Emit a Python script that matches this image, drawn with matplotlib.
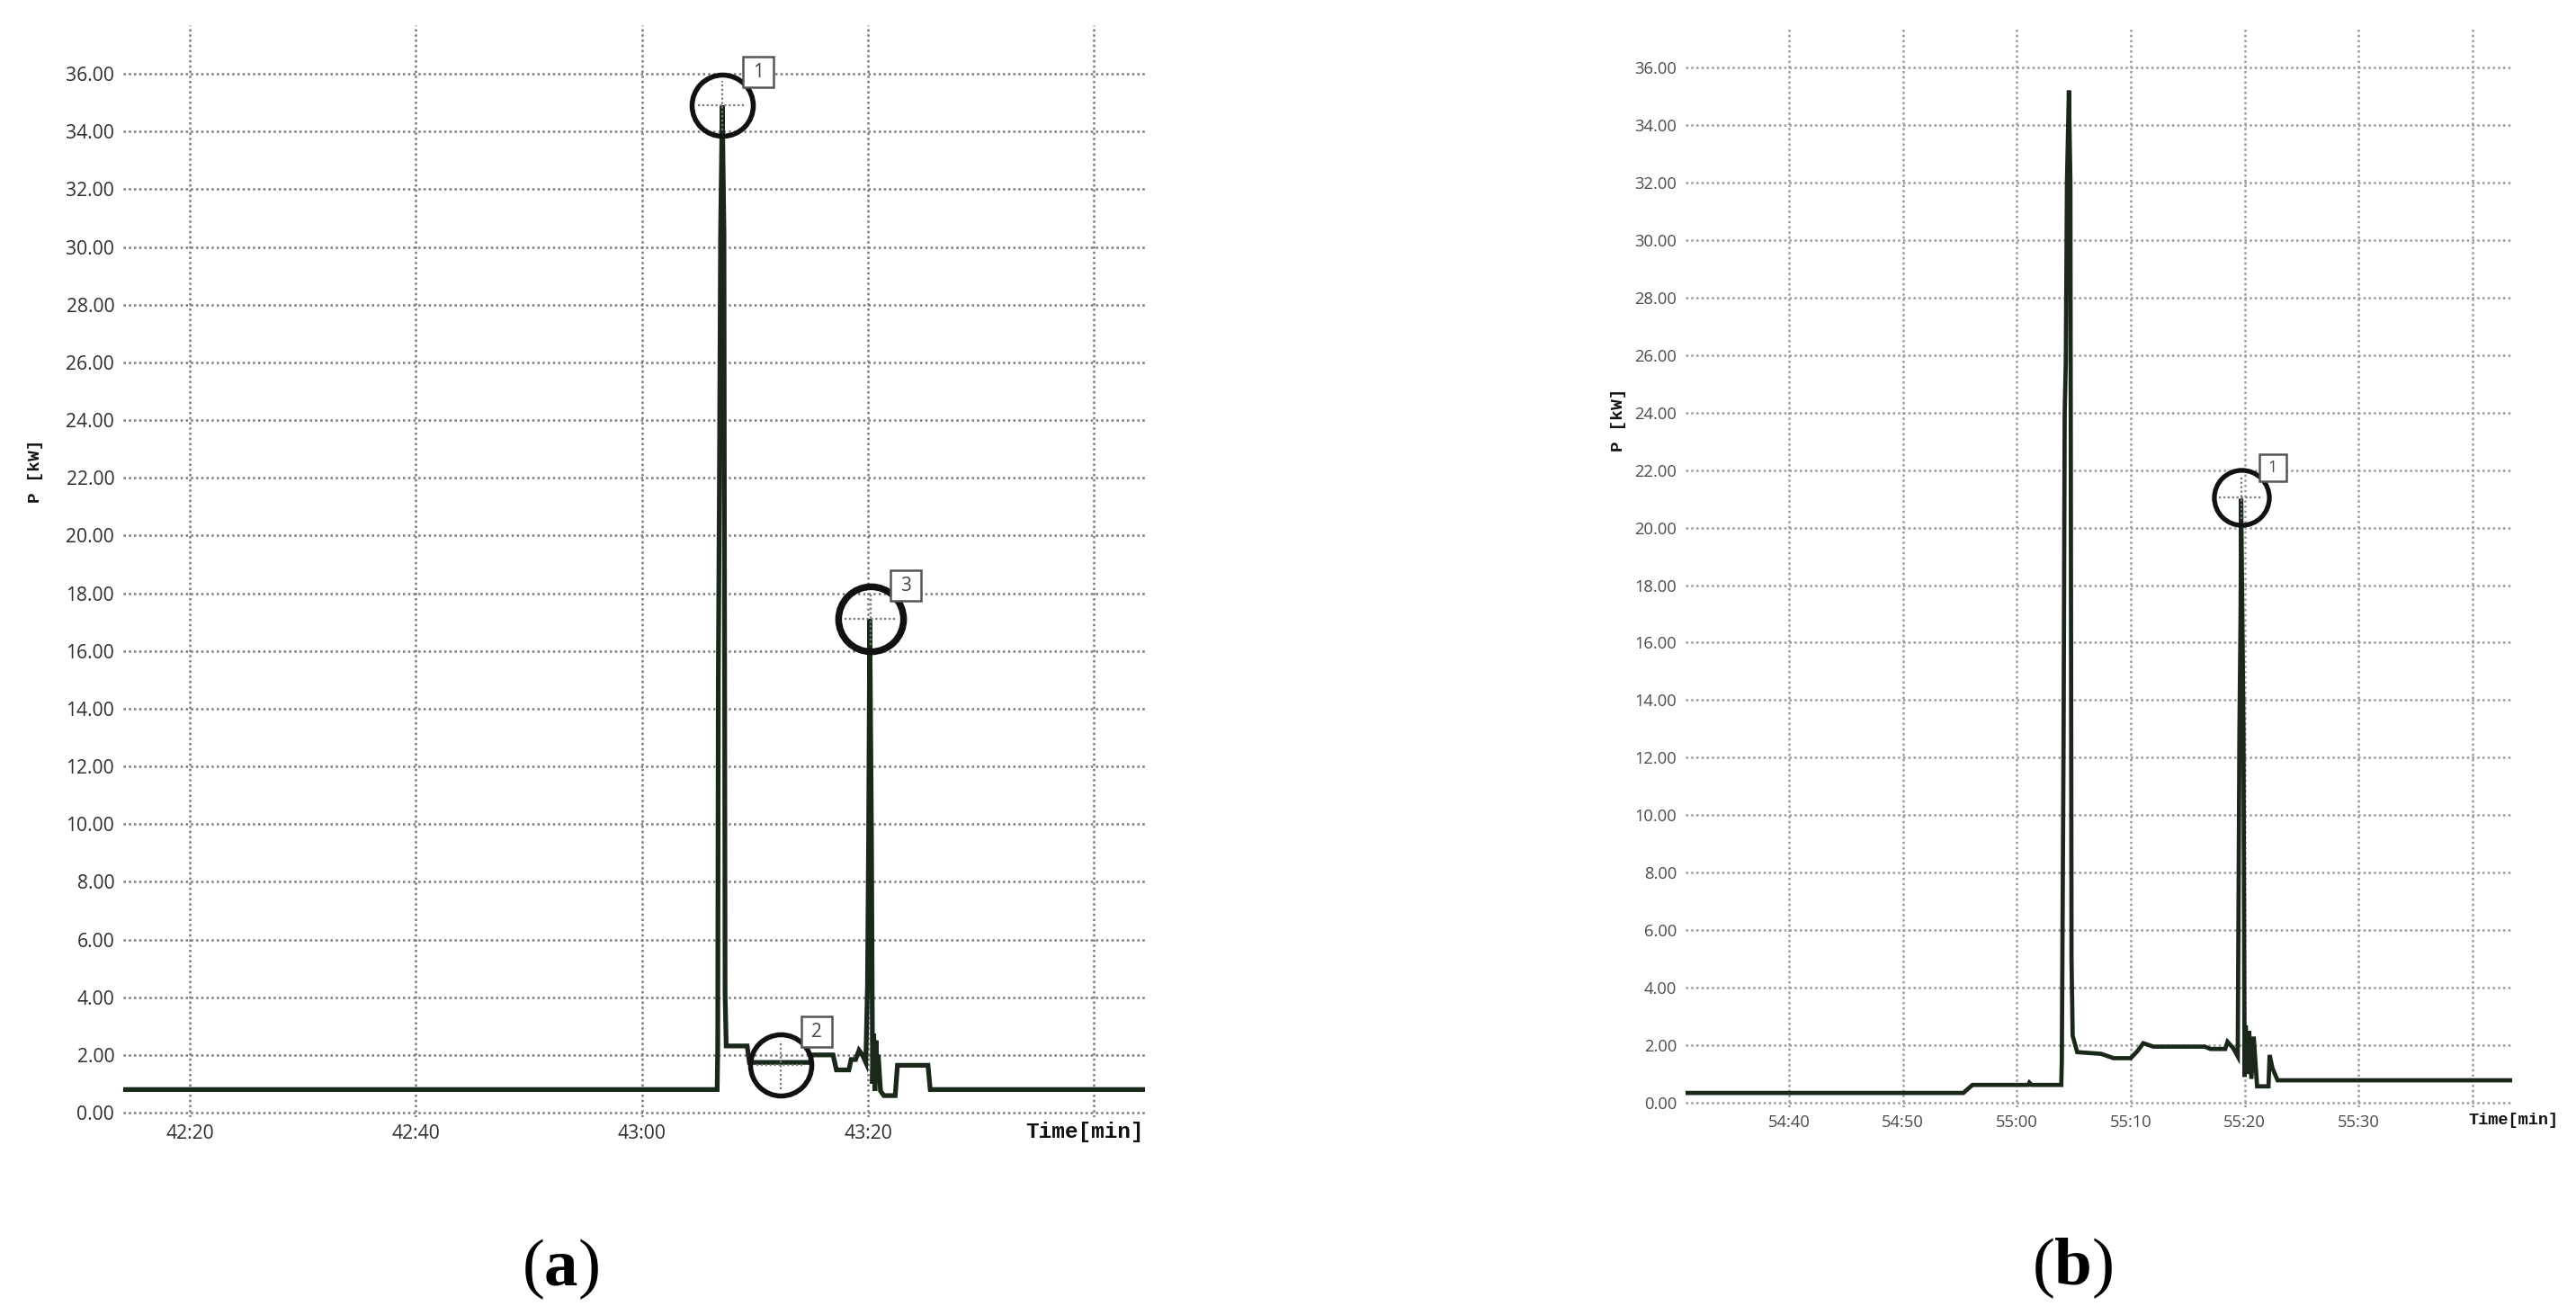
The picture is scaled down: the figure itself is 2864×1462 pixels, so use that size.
import matplotlib
matplotlib.use("Agg")
import matplotlib.pyplot as plt
import matplotlib.transforms as mtransforms

plt.rcParams['mathtext.fontset'] = 'custom'
plt.rcParams['mathtext.rm'] = 'Liberation Serif'
plt.rcParams['mathtext.bf'] = 'Liberation Serif:bold'

# ---------------- data ----------------
# panel (a): time offsets (s) from 43:00, power (kW)
a_base = 43 * 60
a_t_off = [-45.9, 6.65, 6.70, 6.75, 6.85, 6.95, 7.10, 7.25, 7.35, 7.45, 9.3, 9.5,
           14.9, 15.0, 16.9, 17.2, 18.3, 18.5, 18.9, 19.2, 19.5, 19.8, 19.95, 20.05,
           20.15, 20.3, 20.4, 20.5, 20.6, 20.7, 20.8, 20.9, 21.1, 21.4, 22.4, 22.6,
           25.3, 25.5, 44.5]
a_p = [0.80, 0.80, 2.31, 15.0, 22.0, 30.4, 34.9, 30.4, 4.1, 2.31, 2.31, 1.74,
       1.74, 2.0, 2.0, 1.48, 1.48, 1.84, 1.84, 2.16, 2.0, 1.74, 4.4, 9.6,
       17.1, 9.6, 1.0, 2.73, 0.75, 2.5, 1.5, 2.0, 0.75, 0.59, 0.59, 1.64,
       1.64, 0.80, 0.80]
a_mark_t_off = [7.12, 12.27, 20.2]
a_mark_p = [34.9, 1.65, 17.1]
a_mark_lbl = ['1', '2', '3']
a_xticks_off = [-40, -20, 0, 20, 40]
a_xtick_lbl = ['42:20', '42:40', '43:00', '43:20', '']

# panel (b): time offsets (s) from 55:00, power (kW)
b_base = 55 * 60
b_t_off = [-29.1, -4.7, -3.9, 1.0, 1.1, 1.3, 3.9, 3.95, 4.1, 4.2, 4.3, 4.4, 4.57,
           4.7, 4.8, 4.9, 5.3, 7.4, 8.5, 10.0, 10.6, 11.1, 12.0, 16.5, 17.0, 18.3,
           18.5, 19.0, 19.4, 19.55, 19.65, 19.7, 19.8, 19.9, 20.0, 20.1, 20.25,
           20.4, 20.6, 20.8, 21.1, 22.1, 22.2, 22.45, 22.9, 43.5]
b_p = [0.34, 0.34, 0.62, 0.62, 0.70, 0.62, 0.62, 1.50, 12.5, 24.0, 25.8, 32.0, 35.2,
       32.0, 5.0, 2.33, 1.76, 1.70, 1.55, 1.55, 1.80, 2.07, 1.95, 1.95, 1.87, 1.87,
       2.12, 1.90, 1.61, 13.0, 17.0, 21.0, 17.0, 13.0, 0.9, 2.69, 1.0,
       2.5, 0.83, 2.3, 0.57, 0.57, 1.66, 1.2, 0.78, 0.78]
b_mark_t_off = [19.7]
b_mark_p = [21.05]
b_mark_lbl = ['1']
b_xticks_off = [-20, -10, 0, 10, 20, 30, 40]
b_xtick_lbl = ['54:40', '54:50', '55:00', '55:10', '55:20', '55:30', '']

y_ticks = list(range(0, 37, 2))
y_tick_lbl = [f"{v:.2f}" for v in y_ticks]

# ---------------- figure ----------------
W, H, DPI = 2864, 1462, 200
fig = plt.figure(figsize=(W / DPI, H / DPI), dpi=DPI)
fig.patch.set_facecolor('white')


def px_axes(x0, x1, ytop, ybot):
    return [x0 / W, 1 - ybot / H, (x1 - x0) / W, (ybot - ytop) / H]


LINE_C = '#1a281a'


def setup(ax, base, t_off, p, xlim_off, ylim, xt_off, xt_lbl, lab_fs, lab_c, grid_c, lw,
          marks_t, marks_p, marks_lbl, circ_size, circ_lw, box_dx, box_dy, box_size, box_fs):
    t = [base + v for v in t_off]
    ax.plot(t, p, color=LINE_C, lw=lw, zorder=3, solid_joinstyle='miter')
    ax.set_xlim(base + xlim_off[0], base + xlim_off[1])
    ax.set_ylim(*ylim)
    ax.set_xticks([base + v for v in xt_off])
    ax.set_xticklabels(xt_lbl)
    ax.set_yticks(y_ticks)
    ax.set_yticklabels(y_tick_lbl)
    for s in ax.spines.values():
        s.set_visible(False)
    ax.tick_params(length=0, labelsize=lab_fs, labelcolor=lab_c)
    ax.tick_params(axis='y', pad=3.5)
    ax.tick_params(axis='x', pad=3.0)
    for lbl in ax.get_xticklabels() + ax.get_yticklabels():
        lbl.set_fontfamily('Open Sans')
    ax.grid(True, color=grid_c, linestyle=(0, (1.0, 1.3)), lw=0.9, zorder=1)
    ax.set_facecolor('none')

    for i, (mt, mp, ml) in enumerate(zip(marks_t, marks_p, marks_lbl)):
        x = base + mt
        inch = mtransforms.Affine2D().scale(1 / 72.) + fig.dpi_scale_trans + \
            mtransforms.ScaledTranslation(x, mp, ax.transData)
        r = circ_size[i] / 2 * 0.8
        ax.plot([-r, r], [0, 0], transform=inch, color='#777777', lw=0.8,
                linestyle=(0, (1, 1.2)), zorder=4)
        ax.plot([0, 0], [-r, r], transform=inch, color='#777777', lw=0.8,
                linestyle=(0, (1, 1.2)), zorder=4)
        ax.plot([x], [mp], marker='o', markersize=circ_size[i], mfc='none',
                mec='#111111', mew=circ_lw[i], zorder=5, linestyle='none')
        ax.plot([box_dx], [box_dy], transform=inch, marker='s', markersize=box_size,
                mfc='white', mec='#555555', mew=0.9, zorder=6, linestyle='none')
        ax.text(box_dx, box_dy, ml, transform=inch, ha='center', va='center',
                fontsize=box_fs, color='#444444', family='Open Sans', zorder=7)


# panel (a)
ax_a = fig.add_axes(px_axes(137, 1273, 27.6, 1241.8))
setup(ax_a, a_base, a_t_off, a_p, (-45.9, 44.5), (-0.15, 37.7), a_xticks_off, a_xtick_lbl,
      7.6, '#2e2e2e', '#7a7a7a', 1.9, a_mark_t_off, a_mark_p, a_mark_lbl,
      [24.5, 24.5, 26.0], [2.0, 2.0, 2.7], 14.3, 13.3, 12.5, 7.5)

# panel (b)
ax_b = fig.add_axes(px_axes(1874, 2793, 30.3, 1230.8))
setup(ax_b, b_base, b_t_off, b_p, (-29.1, 43.5), (-0.15, 37.4), b_xticks_off, b_xtick_lbl,
      6.6, '#4a4a4a', '#9a9a9a', 1.7, b_mark_t_off, b_mark_p, b_mark_lbl,
      [22.0], [1.9], 12.6, 12.0, 11.0, 6.5)

# axis labels
mono = dict(family='Liberation Mono', weight='bold', color='#111111')
fig.text(40 / W, 1 - 524 / H, 'P [kW]', rotation=90, ha='center', va='center', fontsize=7, **mono)
fig.text(1800 / W, 1 - 467 / H, 'P [kW]', rotation=90, ha='center', va='center', fontsize=7, **mono)
fig.text(1272 / W, 1 - 1258 / H, 'Time[min]', ha='right', va='center', fontsize=8.8, **mono)
fig.text(2845 / W, 1 - 1245 / H, 'Time[min]', ha='right', va='center', fontsize=6.7, **mono)

# panel letters
fig.text(623 / W, 1 - 1411 / H, r'($\mathbf{a}$)', ha='center', va='center',
         fontsize=27, family='Liberation Serif', color='black')
fig.text(2304 / W, 1 - 1410 / H, r'($\mathbf{b}$)', ha='center', va='center',
         fontsize=27, family='Liberation Serif', color='black')

fig.savefig('out.png', dpi=DPI, facecolor='white')
